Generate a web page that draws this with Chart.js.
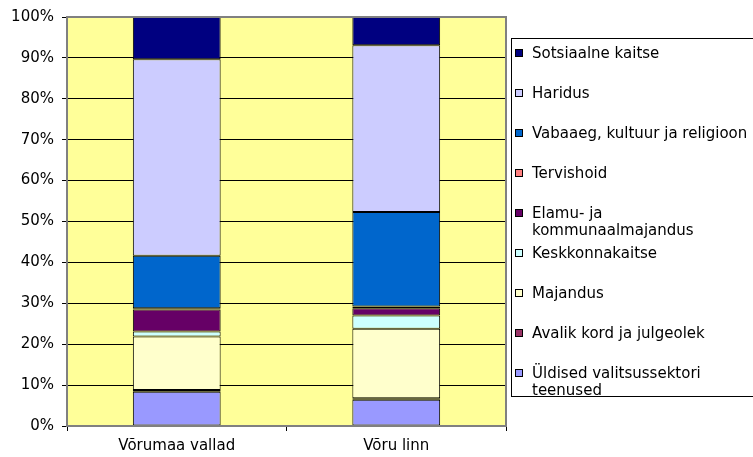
<!DOCTYPE html>
<html>
<head>
<meta charset="utf-8">
<script src="https://cdn.jsdelivr.net/npm/chart.js@4"></script>
<style>
html,body{margin:0;padding:0;background:#fff;}
#wrap{position:relative;width:753px;height:457px;overflow:hidden;}
canvas{position:absolute;left:0;top:0;}
#legend{position:absolute;left:511px;top:38px;width:260px;height:359px;border:1px solid #000;box-sizing:border-box;font-family:"DejaVu Sans",Verdana,sans-serif;font-size:15px;color:#000;background:#fff;}
.li{position:absolute;left:0;width:260px;}
.sw{position:absolute;left:3px;width:6px;height:6px;border:1px solid #000;}
.tx{position:absolute;left:20px;line-height:17px;white-space:nowrap;}
</style>
</head>
<body>
<div id="wrap">
<canvas id="c" width="753" height="457"></canvas>
<div id="legend"></div>
</div>
<script>
const categories = ["Võrumaa vallad", "Võru linn"];
const seriesNames = [
  "Üldised valitsussektori teenused",
  "Avalik kord ja julgeolek",
  "Majandus",
  "Keskkonnakaitse",
  "Elamu- ja kommunaalmajandus",
  "Tervishoid",
  "Vabaaeg, kultuur ja religioon",
  "Haridus",
  "Sotsiaalne kaitse"
];
const legendLines = [
  ["Üldised valitsussektori", "teenused"],
  ["Avalik kord ja julgeolek"],
  ["Majandus"],
  ["Keskkonnakaitse"],
  ["Elamu- ja", "kommunaalmajandus"],
  ["Tervishoid"],
  ["Vabaaeg, kultuur ja religioon"],
  ["Haridus"],
  ["Sotsiaalne kaitse"]
];
const uldised   = [8.4, 6.4];
const avalik    = [0.4, 0.4];
const majandus  = [13.1, 17.0];
const keskkonna = [1.2, 3.2];
const elamu     = [5.4, 1.8];
const tervis    = [0.3, 0.4];
const vabaaeg   = [12.8, 23.1];
const haridus   = [48.1, 40.8];
const sotsiaal  = [10.3, 6.9];
const yTicks = ["0%","10%","20%","30%","40%","50%","60%","70%","80%","90%","100%"];

const seriesValues = [uldised, avalik, majandus, keskkonna, elamu, tervis, vabaaeg, haridus, sotsiaal];
const colors = ["#9999FF","#993366","#FFFFCC","#CCFFFF","#660066","#FF8080","#0066CC","#CCCCFF","#000080"];

const FONT = "'DejaVu Sans', Verdana, sans-serif";

const plotBg = {
  id: 'plotBg',
  beforeDraw(chart) {
    const {ctx, chartArea: a} = chart;
    ctx.save();
    ctx.fillStyle = '#FFFF99';
    ctx.fillRect(a.left, a.top, a.right - a.left, a.bottom - a.top);
    ctx.restore();
  },
  afterDraw(chart) {
    const {ctx, chartArea: a} = chart;
    ctx.save();
    ctx.strokeStyle = '#808080';
    ctx.lineWidth = 2;
    ctx.strokeRect(a.left, a.top, a.right - a.left, a.bottom - a.top);
    ctx.restore();
  }
};

const chart = new Chart(document.getElementById('c'), {
  type: 'bar',
  data: {
    labels: categories,
    datasets: seriesNames.map((n, i) => ({
      label: n,
      data: seriesValues[i],
      backgroundColor: colors[i],
      borderColor: '#000',
      borderWidth: 1,
      borderSkipped: false,
      barPercentage: 0.4,
      categoryPercentage: 1.0
    }))
  },
  options: {
    responsive: false,
    animation: false,
    devicePixelRatio: 1,
    layout: { padding: { left: 0, right: 247, top: 15, bottom: 0 } },
    plugins: { legend: { display: false }, tooltip: { enabled: false } },
    scales: {
      x: {
        stacked: true,
        offset: true,
        grid: { offset: true, drawOnChartArea: false, color: '#000', tickLength: 5 },
        border: { color: '#808080', width: 2 },
        ticks: { color: '#000', font: { family: FONT, size: 15 }, padding: 6, maxRotation: 0 },
        afterFit(s) { s.height = 31; }
      },
      y: {
        stacked: true,
        min: 0, max: 100,
        ticks: {
          stepSize: 10,
          color: '#000',
          font: { family: FONT, size: 15 },
          padding: 8,
          callback: (v) => yTicks[Math.round(v / 10)]
        },
        grid: { color: '#000', lineWidth: 1, tickLength: 5 },
        border: { color: '#808080', width: 2 },
        afterFit(s) { s.width = 67; }
      }
    }
  },
  plugins: [plotBg]
});

// HTML legend (reverse order, like the reference)
const lg = document.getElementById('legend');
const n = seriesNames.length;
for (let k = 0; k < n; k++) {
  const i = n - 1 - k;
  const cy = 52 - 39 + k * 40;
  const item = document.createElement('div');
  item.className = 'li';
  item.style.top = (cy - 7) + 'px';
  const sw = document.createElement('div');
  sw.className = 'sw';
  sw.style.background = chart.data.datasets[i].backgroundColor;
  sw.style.top = '4px';
  const tx = document.createElement('div');
  tx.className = 'tx';
  tx.innerHTML = legendLines[i].map(s => s.replace(/&/g,'&amp;')).join('<br>');
  item.appendChild(sw);
  item.appendChild(tx);
  lg.appendChild(item);
}
</script>
</body>
</html>
